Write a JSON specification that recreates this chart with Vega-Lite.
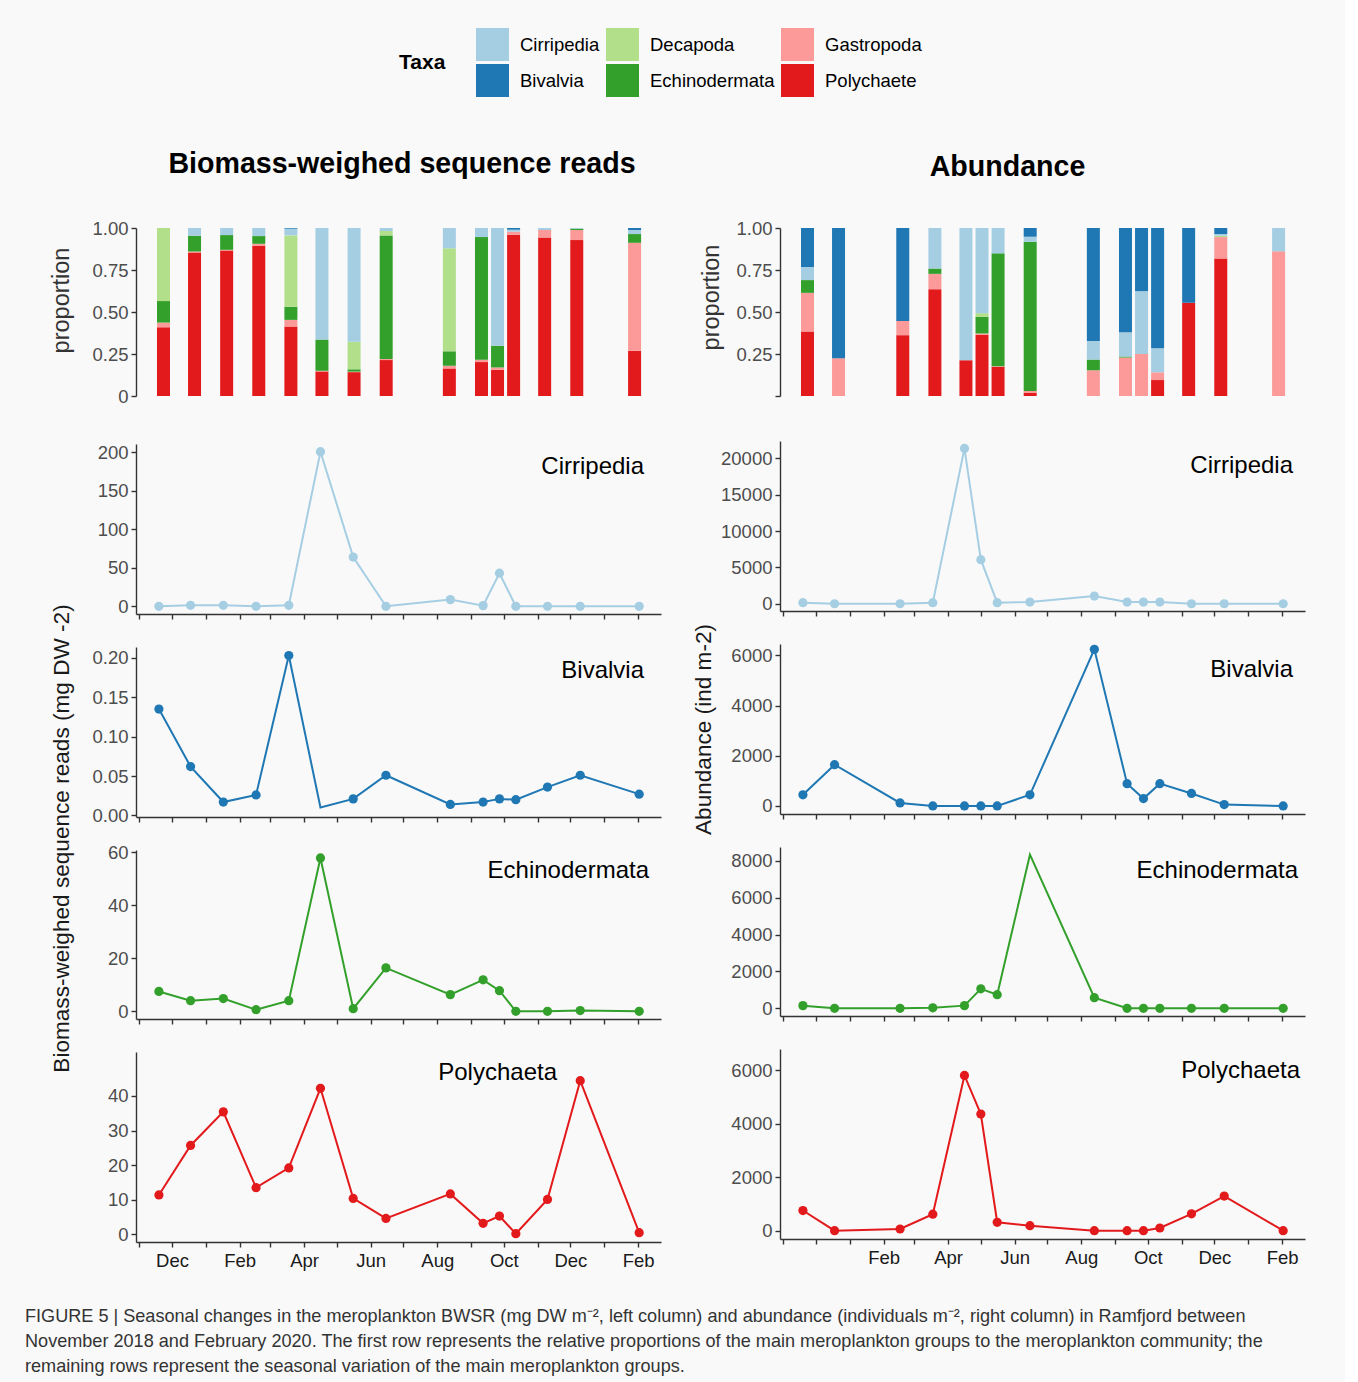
{
  "$schema": "https://vega.github.io/schema/vega-lite/v6.json",
  "background": "#f9f9f9",
  "padding": {"left": 25, "top": 28, "right": 40, "bottom": 6},
  "config": {
    "font": "Liberation Sans",
    "view": {"stroke": null},
    "axis": {"grid": false, "domainColor": "#333333", "domainWidth": 1.4, "tickColor": "#333333", "tickWidth": 1.4, "tickSize": 5, "labelFontSize": 18.5, "labelColor": "#4d4d4d", "labelPadding": 3, "titleFontSize": 22.6, "titleFontWeight": "normal", "titleColor": "#1a1a1a"},
    "axisX": {"labelFlush": false},
    "title": {"font": "Liberation Sans"}
  },
  "title": {
    "text": ["FIGURE 5 | Seasonal changes in the meroplankton BWSR (mg DW m⁻², left column) and abundance (individuals m⁻², right column) in Ramfjord between", "November 2018 and February 2020. The first row represents the relative proportions of the main meroplankton groups to the meroplankton community; the", "remaining rows represent the seasonal variation of the main meroplankton groups."],
    "orient": "bottom", "anchor": "start", "fontSize": 18.1, "fontWeight": "normal", "lineHeight": 25, "color": "#333333", "offset": 38, "dx": -24
  },
  "datasets": {
    "props": [
      {"panel": "BWSR", "date": "2018-11-19", "taxon": "Polychaete", "p": 0.409},
      {"panel": "BWSR", "date": "2018-11-19", "taxon": "Gastropoda", "p": 0.028},
      {"panel": "BWSR", "date": "2018-11-19", "taxon": "Echinodermata", "p": 0.128},
      {"panel": "BWSR", "date": "2018-11-19", "taxon": "Decapoda", "p": 0.435},
      {"panel": "BWSR", "date": "2018-12-18", "taxon": "Polychaete", "p": 0.854},
      {"panel": "BWSR", "date": "2018-12-18", "taxon": "Gastropoda", "p": 0.006},
      {"panel": "BWSR", "date": "2018-12-18", "taxon": "Echinodermata", "p": 0.094},
      {"panel": "BWSR", "date": "2018-12-18", "taxon": "Cirripedia", "p": 0.046},
      {"panel": "BWSR", "date": "2019-01-17", "taxon": "Polychaete", "p": 0.866},
      {"panel": "BWSR", "date": "2019-01-17", "taxon": "Gastropoda", "p": 0.004},
      {"panel": "BWSR", "date": "2019-01-17", "taxon": "Echinodermata", "p": 0.088},
      {"panel": "BWSR", "date": "2019-01-17", "taxon": "Cirripedia", "p": 0.042},
      {"panel": "BWSR", "date": "2019-02-16", "taxon": "Polychaete", "p": 0.894},
      {"panel": "BWSR", "date": "2019-02-16", "taxon": "Gastropoda", "p": 0.012},
      {"panel": "BWSR", "date": "2019-02-16", "taxon": "Echinodermata", "p": 0.046},
      {"panel": "BWSR", "date": "2019-02-16", "taxon": "Cirripedia", "p": 0.048},
      {"panel": "BWSR", "date": "2019-03-18", "taxon": "Polychaete", "p": 0.413},
      {"panel": "BWSR", "date": "2019-03-18", "taxon": "Gastropoda", "p": 0.040},
      {"panel": "BWSR", "date": "2019-03-18", "taxon": "Echinodermata", "p": 0.078},
      {"panel": "BWSR", "date": "2019-03-18", "taxon": "Decapoda", "p": 0.425},
      {"panel": "BWSR", "date": "2019-03-18", "taxon": "Cirripedia", "p": 0.040},
      {"panel": "BWSR", "date": "2019-03-18", "taxon": "Bivalvia", "p": 0.004},
      {"panel": "BWSR", "date": "2019-04-16", "taxon": "Polychaete", "p": 0.146},
      {"panel": "BWSR", "date": "2019-04-16", "taxon": "Gastropoda", "p": 0.004},
      {"panel": "BWSR", "date": "2019-04-16", "taxon": "Echinodermata", "p": 0.186},
      {"panel": "BWSR", "date": "2019-04-16", "taxon": "Cirripedia", "p": 0.664},
      {"panel": "BWSR", "date": "2019-05-16", "taxon": "Polychaete", "p": 0.142},
      {"panel": "BWSR", "date": "2019-05-16", "taxon": "Gastropoda", "p": 0.003},
      {"panel": "BWSR", "date": "2019-05-16", "taxon": "Echinodermata", "p": 0.014},
      {"panel": "BWSR", "date": "2019-05-16", "taxon": "Decapoda", "p": 0.164},
      {"panel": "BWSR", "date": "2019-05-16", "taxon": "Cirripedia", "p": 0.677},
      {"panel": "BWSR", "date": "2019-06-15", "taxon": "Polychaete", "p": 0.214},
      {"panel": "BWSR", "date": "2019-06-15", "taxon": "Gastropoda", "p": 0.006},
      {"panel": "BWSR", "date": "2019-06-15", "taxon": "Echinodermata", "p": 0.736},
      {"panel": "BWSR", "date": "2019-06-15", "taxon": "Decapoda", "p": 0.026},
      {"panel": "BWSR", "date": "2019-06-15", "taxon": "Cirripedia", "p": 0.018},
      {"panel": "BWSR", "date": "2019-08-13", "taxon": "Polychaete", "p": 0.164},
      {"panel": "BWSR", "date": "2019-08-13", "taxon": "Gastropoda", "p": 0.016},
      {"panel": "BWSR", "date": "2019-08-13", "taxon": "Echinodermata", "p": 0.086},
      {"panel": "BWSR", "date": "2019-08-13", "taxon": "Decapoda", "p": 0.613},
      {"panel": "BWSR", "date": "2019-08-13", "taxon": "Cirripedia", "p": 0.121},
      {"panel": "BWSR", "date": "2019-09-12", "taxon": "Polychaete", "p": 0.202},
      {"panel": "BWSR", "date": "2019-09-12", "taxon": "Gastropoda", "p": 0.014},
      {"panel": "BWSR", "date": "2019-09-12", "taxon": "Echinodermata", "p": 0.730},
      {"panel": "BWSR", "date": "2019-09-12", "taxon": "Cirripedia", "p": 0.054},
      {"panel": "BWSR", "date": "2019-09-27", "taxon": "Polychaete", "p": 0.156},
      {"panel": "BWSR", "date": "2019-09-27", "taxon": "Gastropoda", "p": 0.014},
      {"panel": "BWSR", "date": "2019-09-27", "taxon": "Echinodermata", "p": 0.129},
      {"panel": "BWSR", "date": "2019-09-27", "taxon": "Cirripedia", "p": 0.701},
      {"panel": "BWSR", "date": "2019-10-12", "taxon": "Polychaete", "p": 0.960},
      {"panel": "BWSR", "date": "2019-10-12", "taxon": "Gastropoda", "p": 0.018},
      {"panel": "BWSR", "date": "2019-10-12", "taxon": "Cirripedia", "p": 0.012},
      {"panel": "BWSR", "date": "2019-10-12", "taxon": "Bivalvia", "p": 0.010},
      {"panel": "BWSR", "date": "2019-11-10", "taxon": "Polychaete", "p": 0.944},
      {"panel": "BWSR", "date": "2019-11-10", "taxon": "Gastropoda", "p": 0.044},
      {"panel": "BWSR", "date": "2019-11-10", "taxon": "Cirripedia", "p": 0.012},
      {"panel": "BWSR", "date": "2019-12-10", "taxon": "Polychaete", "p": 0.928},
      {"panel": "BWSR", "date": "2019-12-10", "taxon": "Gastropoda", "p": 0.060},
      {"panel": "BWSR", "date": "2019-12-10", "taxon": "Echinodermata", "p": 0.008},
      {"panel": "BWSR", "date": "2019-12-10", "taxon": "Cirripedia", "p": 0.004},
      {"panel": "BWSR", "date": "2020-02-02", "taxon": "Polychaete", "p": 0.269},
      {"panel": "BWSR", "date": "2020-02-02", "taxon": "Gastropoda", "p": 0.643},
      {"panel": "BWSR", "date": "2020-02-02", "taxon": "Echinodermata", "p": 0.052},
      {"panel": "BWSR", "date": "2020-02-02", "taxon": "Cirripedia", "p": 0.024},
      {"panel": "BWSR", "date": "2020-02-02", "taxon": "Bivalvia", "p": 0.012},
      {"panel": "Abundance", "date": "2018-11-19", "taxon": "Polychaete", "p": 0.384},
      {"panel": "Abundance", "date": "2018-11-19", "taxon": "Gastropoda", "p": 0.230},
      {"panel": "Abundance", "date": "2018-11-19", "taxon": "Echinodermata", "p": 0.076},
      {"panel": "Abundance", "date": "2018-11-19", "taxon": "Cirripedia", "p": 0.078},
      {"panel": "Abundance", "date": "2018-11-19", "taxon": "Bivalvia", "p": 0.232},
      {"panel": "Abundance", "date": "2018-12-18", "taxon": "Gastropoda", "p": 0.225},
      {"panel": "Abundance", "date": "2018-12-18", "taxon": "Bivalvia", "p": 0.775},
      {"panel": "Abundance", "date": "2019-02-16", "taxon": "Polychaete", "p": 0.362},
      {"panel": "Abundance", "date": "2019-02-16", "taxon": "Gastropoda", "p": 0.085},
      {"panel": "Abundance", "date": "2019-02-16", "taxon": "Bivalvia", "p": 0.553},
      {"panel": "Abundance", "date": "2019-03-18", "taxon": "Polychaete", "p": 0.636},
      {"panel": "Abundance", "date": "2019-03-18", "taxon": "Gastropoda", "p": 0.091},
      {"panel": "Abundance", "date": "2019-03-18", "taxon": "Echinodermata", "p": 0.032},
      {"panel": "Abundance", "date": "2019-03-18", "taxon": "Cirripedia", "p": 0.241},
      {"panel": "Abundance", "date": "2019-04-16", "taxon": "Polychaete", "p": 0.213},
      {"panel": "Abundance", "date": "2019-04-16", "taxon": "Cirripedia", "p": 0.787},
      {"panel": "Abundance", "date": "2019-05-01", "taxon": "Polychaete", "p": 0.364},
      {"panel": "Abundance", "date": "2019-05-01", "taxon": "Gastropoda", "p": 0.008},
      {"panel": "Abundance", "date": "2019-05-01", "taxon": "Echinodermata", "p": 0.099},
      {"panel": "Abundance", "date": "2019-05-01", "taxon": "Decapoda", "p": 0.022},
      {"panel": "Abundance", "date": "2019-05-01", "taxon": "Cirripedia", "p": 0.507},
      {"panel": "Abundance", "date": "2019-05-16", "taxon": "Polychaete", "p": 0.173},
      {"panel": "Abundance", "date": "2019-05-16", "taxon": "Gastropoda", "p": 0.004},
      {"panel": "Abundance", "date": "2019-05-16", "taxon": "Echinodermata", "p": 0.672},
      {"panel": "Abundance", "date": "2019-05-16", "taxon": "Cirripedia", "p": 0.151},
      {"panel": "Abundance", "date": "2019-06-15", "taxon": "Polychaete", "p": 0.020},
      {"panel": "Abundance", "date": "2019-06-15", "taxon": "Gastropoda", "p": 0.010},
      {"panel": "Abundance", "date": "2019-06-15", "taxon": "Echinodermata", "p": 0.888},
      {"panel": "Abundance", "date": "2019-06-15", "taxon": "Cirripedia", "p": 0.030},
      {"panel": "Abundance", "date": "2019-06-15", "taxon": "Bivalvia", "p": 0.052},
      {"panel": "Abundance", "date": "2019-08-13", "taxon": "Gastropoda", "p": 0.153},
      {"panel": "Abundance", "date": "2019-08-13", "taxon": "Echinodermata", "p": 0.064},
      {"panel": "Abundance", "date": "2019-08-13", "taxon": "Cirripedia", "p": 0.111},
      {"panel": "Abundance", "date": "2019-08-13", "taxon": "Bivalvia", "p": 0.672},
      {"panel": "Abundance", "date": "2019-09-12", "taxon": "Gastropoda", "p": 0.229},
      {"panel": "Abundance", "date": "2019-09-12", "taxon": "Echinodermata", "p": 0.006},
      {"panel": "Abundance", "date": "2019-09-12", "taxon": "Cirripedia", "p": 0.145},
      {"panel": "Abundance", "date": "2019-09-12", "taxon": "Bivalvia", "p": 0.620},
      {"panel": "Abundance", "date": "2019-09-27", "taxon": "Gastropoda", "p": 0.250},
      {"panel": "Abundance", "date": "2019-09-27", "taxon": "Cirripedia", "p": 0.374},
      {"panel": "Abundance", "date": "2019-09-27", "taxon": "Bivalvia", "p": 0.376},
      {"panel": "Abundance", "date": "2019-10-12", "taxon": "Polychaete", "p": 0.095},
      {"panel": "Abundance", "date": "2019-10-12", "taxon": "Gastropoda", "p": 0.046},
      {"panel": "Abundance", "date": "2019-10-12", "taxon": "Cirripedia", "p": 0.143},
      {"panel": "Abundance", "date": "2019-10-12", "taxon": "Bivalvia", "p": 0.716},
      {"panel": "Abundance", "date": "2019-11-10", "taxon": "Polychaete", "p": 0.555},
      {"panel": "Abundance", "date": "2019-11-10", "taxon": "Bivalvia", "p": 0.445},
      {"panel": "Abundance", "date": "2019-12-10", "taxon": "Polychaete", "p": 0.819},
      {"panel": "Abundance", "date": "2019-12-10", "taxon": "Gastropoda", "p": 0.127},
      {"panel": "Abundance", "date": "2019-12-10", "taxon": "Decapoda", "p": 0.008},
      {"panel": "Abundance", "date": "2019-12-10", "taxon": "Cirripedia", "p": 0.010},
      {"panel": "Abundance", "date": "2019-12-10", "taxon": "Bivalvia", "p": 0.036},
      {"panel": "Abundance", "date": "2020-02-02", "taxon": "Gastropoda", "p": 0.861},
      {"panel": "Abundance", "date": "2020-02-02", "taxon": "Cirripedia", "p": 0.139}
    ],
    "series": [
      {"panel": "BWSR", "taxon": "Cirripedia", "date": "2018-11-19", "v": 0},
      {"panel": "BWSR", "taxon": "Cirripedia", "date": "2018-12-18", "v": 1.3},
      {"panel": "BWSR", "taxon": "Cirripedia", "date": "2019-01-17", "v": 1.3},
      {"panel": "BWSR", "taxon": "Cirripedia", "date": "2019-02-16", "v": 0},
      {"panel": "BWSR", "taxon": "Cirripedia", "date": "2019-03-18", "v": 1.3},
      {"panel": "BWSR", "taxon": "Cirripedia", "date": "2019-04-16", "v": 201},
      {"panel": "BWSR", "taxon": "Cirripedia", "date": "2019-05-16", "v": 64},
      {"panel": "BWSR", "taxon": "Cirripedia", "date": "2019-06-15", "v": 0},
      {"panel": "BWSR", "taxon": "Cirripedia", "date": "2019-08-13", "v": 8.7},
      {"panel": "BWSR", "taxon": "Cirripedia", "date": "2019-09-12", "v": 0.9},
      {"panel": "BWSR", "taxon": "Cirripedia", "date": "2019-09-27", "v": 43},
      {"panel": "BWSR", "taxon": "Cirripedia", "date": "2019-10-12", "v": 0},
      {"panel": "BWSR", "taxon": "Cirripedia", "date": "2019-11-10", "v": 0},
      {"panel": "BWSR", "taxon": "Cirripedia", "date": "2019-12-10", "v": 0},
      {"panel": "BWSR", "taxon": "Cirripedia", "date": "2020-02-02", "v": 0},
      {"panel": "BWSR", "taxon": "Bivalvia", "date": "2018-11-19", "v": 0.135},
      {"panel": "BWSR", "taxon": "Bivalvia", "date": "2018-12-18", "v": 0.062},
      {"panel": "BWSR", "taxon": "Bivalvia", "date": "2019-01-17", "v": 0.017},
      {"panel": "BWSR", "taxon": "Bivalvia", "date": "2019-02-16", "v": 0.026},
      {"panel": "BWSR", "taxon": "Bivalvia", "date": "2019-03-18", "v": 0.203},
      {"panel": "BWSR", "taxon": "Bivalvia", "date": "2019-04-16", "v": 0.010},
      {"panel": "BWSR", "taxon": "Bivalvia", "date": "2019-05-16", "v": 0.021},
      {"panel": "BWSR", "taxon": "Bivalvia", "date": "2019-06-15", "v": 0.051},
      {"panel": "BWSR", "taxon": "Bivalvia", "date": "2019-08-13", "v": 0.014},
      {"panel": "BWSR", "taxon": "Bivalvia", "date": "2019-09-12", "v": 0.017},
      {"panel": "BWSR", "taxon": "Bivalvia", "date": "2019-09-27", "v": 0.021},
      {"panel": "BWSR", "taxon": "Bivalvia", "date": "2019-10-12", "v": 0.020},
      {"panel": "BWSR", "taxon": "Bivalvia", "date": "2019-11-10", "v": 0.036},
      {"panel": "BWSR", "taxon": "Bivalvia", "date": "2019-12-10", "v": 0.051},
      {"panel": "BWSR", "taxon": "Bivalvia", "date": "2020-02-02", "v": 0.027},
      {"panel": "BWSR", "taxon": "Echinodermata", "date": "2018-11-19", "v": 7.5},
      {"panel": "BWSR", "taxon": "Echinodermata", "date": "2018-12-18", "v": 4.0},
      {"panel": "BWSR", "taxon": "Echinodermata", "date": "2019-01-17", "v": 4.8},
      {"panel": "BWSR", "taxon": "Echinodermata", "date": "2019-02-16", "v": 0.6},
      {"panel": "BWSR", "taxon": "Echinodermata", "date": "2019-03-18", "v": 4.0},
      {"panel": "BWSR", "taxon": "Echinodermata", "date": "2019-04-16", "v": 57.9},
      {"panel": "BWSR", "taxon": "Echinodermata", "date": "2019-05-16", "v": 1.0},
      {"panel": "BWSR", "taxon": "Echinodermata", "date": "2019-06-15", "v": 16.4},
      {"panel": "BWSR", "taxon": "Echinodermata", "date": "2019-08-13", "v": 6.3},
      {"panel": "BWSR", "taxon": "Echinodermata", "date": "2019-09-12", "v": 11.9},
      {"panel": "BWSR", "taxon": "Echinodermata", "date": "2019-09-27", "v": 7.8},
      {"panel": "BWSR", "taxon": "Echinodermata", "date": "2019-10-12", "v": 0},
      {"panel": "BWSR", "taxon": "Echinodermata", "date": "2019-11-10", "v": 0},
      {"panel": "BWSR", "taxon": "Echinodermata", "date": "2019-12-10", "v": 0.3},
      {"panel": "BWSR", "taxon": "Echinodermata", "date": "2020-02-02", "v": 0},
      {"panel": "BWSR", "taxon": "Polychaeta", "date": "2018-11-19", "v": 11.4},
      {"panel": "BWSR", "taxon": "Polychaeta", "date": "2018-12-18", "v": 25.7},
      {"panel": "BWSR", "taxon": "Polychaeta", "date": "2019-01-17", "v": 35.4},
      {"panel": "BWSR", "taxon": "Polychaeta", "date": "2019-02-16", "v": 13.5},
      {"panel": "BWSR", "taxon": "Polychaeta", "date": "2019-03-18", "v": 19.2},
      {"panel": "BWSR", "taxon": "Polychaeta", "date": "2019-04-16", "v": 42.2},
      {"panel": "BWSR", "taxon": "Polychaeta", "date": "2019-05-16", "v": 10.4},
      {"panel": "BWSR", "taxon": "Polychaeta", "date": "2019-06-15", "v": 4.6},
      {"panel": "BWSR", "taxon": "Polychaeta", "date": "2019-08-13", "v": 11.7},
      {"panel": "BWSR", "taxon": "Polychaeta", "date": "2019-09-12", "v": 3.2},
      {"panel": "BWSR", "taxon": "Polychaeta", "date": "2019-09-27", "v": 5.3},
      {"panel": "BWSR", "taxon": "Polychaeta", "date": "2019-10-12", "v": 0.2},
      {"panel": "BWSR", "taxon": "Polychaeta", "date": "2019-11-10", "v": 10.1},
      {"panel": "BWSR", "taxon": "Polychaeta", "date": "2019-12-10", "v": 44.4},
      {"panel": "BWSR", "taxon": "Polychaeta", "date": "2020-02-02", "v": 0.5},
      {"panel": "Abundance", "taxon": "Cirripedia", "date": "2018-11-19", "v": 140},
      {"panel": "Abundance", "taxon": "Cirripedia", "date": "2018-12-18", "v": 0},
      {"panel": "Abundance", "taxon": "Cirripedia", "date": "2019-02-16", "v": 0},
      {"panel": "Abundance", "taxon": "Cirripedia", "date": "2019-03-18", "v": 140},
      {"panel": "Abundance", "taxon": "Cirripedia", "date": "2019-04-16", "v": 21380},
      {"panel": "Abundance", "taxon": "Cirripedia", "date": "2019-05-01", "v": 6070},
      {"panel": "Abundance", "taxon": "Cirripedia", "date": "2019-05-16", "v": 140},
      {"panel": "Abundance", "taxon": "Cirripedia", "date": "2019-06-15", "v": 230},
      {"panel": "Abundance", "taxon": "Cirripedia", "date": "2019-08-13", "v": 1060},
      {"panel": "Abundance", "taxon": "Cirripedia", "date": "2019-09-12", "v": 230},
      {"panel": "Abundance", "taxon": "Cirripedia", "date": "2019-09-27", "v": 230},
      {"panel": "Abundance", "taxon": "Cirripedia", "date": "2019-10-12", "v": 230},
      {"panel": "Abundance", "taxon": "Cirripedia", "date": "2019-11-10", "v": 0},
      {"panel": "Abundance", "taxon": "Cirripedia", "date": "2019-12-10", "v": 0},
      {"panel": "Abundance", "taxon": "Cirripedia", "date": "2020-02-02", "v": 0},
      {"panel": "Abundance", "taxon": "Bivalvia", "date": "2018-11-19", "v": 444},
      {"panel": "Abundance", "taxon": "Bivalvia", "date": "2018-12-18", "v": 1643},
      {"panel": "Abundance", "taxon": "Bivalvia", "date": "2019-02-16", "v": 121},
      {"panel": "Abundance", "taxon": "Bivalvia", "date": "2019-03-18", "v": 0},
      {"panel": "Abundance", "taxon": "Bivalvia", "date": "2019-04-16", "v": 0},
      {"panel": "Abundance", "taxon": "Bivalvia", "date": "2019-05-01", "v": 0},
      {"panel": "Abundance", "taxon": "Bivalvia", "date": "2019-05-16", "v": 0},
      {"panel": "Abundance", "taxon": "Bivalvia", "date": "2019-06-15", "v": 444},
      {"panel": "Abundance", "taxon": "Bivalvia", "date": "2019-08-13", "v": 6236},
      {"panel": "Abundance", "taxon": "Bivalvia", "date": "2019-09-12", "v": 889},
      {"panel": "Abundance", "taxon": "Bivalvia", "date": "2019-09-27", "v": 296},
      {"panel": "Abundance", "taxon": "Bivalvia", "date": "2019-10-12", "v": 889},
      {"panel": "Abundance", "taxon": "Bivalvia", "date": "2019-11-10", "v": 498},
      {"panel": "Abundance", "taxon": "Bivalvia", "date": "2019-12-10", "v": 54},
      {"panel": "Abundance", "taxon": "Bivalvia", "date": "2020-02-02", "v": 0},
      {"panel": "Abundance", "taxon": "Echinodermata", "date": "2018-11-19", "v": 146},
      {"panel": "Abundance", "taxon": "Echinodermata", "date": "2018-12-18", "v": 0},
      {"panel": "Abundance", "taxon": "Echinodermata", "date": "2019-02-16", "v": 0},
      {"panel": "Abundance", "taxon": "Echinodermata", "date": "2019-03-18", "v": 30},
      {"panel": "Abundance", "taxon": "Echinodermata", "date": "2019-04-16", "v": 146},
      {"panel": "Abundance", "taxon": "Echinodermata", "date": "2019-05-01", "v": 1060},
      {"panel": "Abundance", "taxon": "Echinodermata", "date": "2019-05-16", "v": 740},
      {"panel": "Abundance", "taxon": "Echinodermata", "date": "2019-06-15", "v": 8340},
      {"panel": "Abundance", "taxon": "Echinodermata", "date": "2019-08-13", "v": 577},
      {"panel": "Abundance", "taxon": "Echinodermata", "date": "2019-09-12", "v": 0},
      {"panel": "Abundance", "taxon": "Echinodermata", "date": "2019-09-27", "v": 0},
      {"panel": "Abundance", "taxon": "Echinodermata", "date": "2019-10-12", "v": 0},
      {"panel": "Abundance", "taxon": "Echinodermata", "date": "2019-11-10", "v": 0},
      {"panel": "Abundance", "taxon": "Echinodermata", "date": "2019-12-10", "v": 0},
      {"panel": "Abundance", "taxon": "Echinodermata", "date": "2020-02-02", "v": 0},
      {"panel": "Abundance", "taxon": "Polychaeta", "date": "2018-11-19", "v": 753},
      {"panel": "Abundance", "taxon": "Polychaeta", "date": "2018-12-18", "v": 0},
      {"panel": "Abundance", "taxon": "Polychaeta", "date": "2019-02-16", "v": 63},
      {"panel": "Abundance", "taxon": "Polychaeta", "date": "2019-03-18", "v": 615},
      {"panel": "Abundance", "taxon": "Polychaeta", "date": "2019-04-16", "v": 5800},
      {"panel": "Abundance", "taxon": "Polychaeta", "date": "2019-05-01", "v": 4356},
      {"panel": "Abundance", "taxon": "Polychaeta", "date": "2019-05-16", "v": 314},
      {"panel": "Abundance", "taxon": "Polychaeta", "date": "2019-06-15", "v": 188},
      {"panel": "Abundance", "taxon": "Polychaeta", "date": "2019-08-13", "v": 0},
      {"panel": "Abundance", "taxon": "Polychaeta", "date": "2019-09-12", "v": 0},
      {"panel": "Abundance", "taxon": "Polychaeta", "date": "2019-09-27", "v": 0},
      {"panel": "Abundance", "taxon": "Polychaeta", "date": "2019-10-12", "v": 100},
      {"panel": "Abundance", "taxon": "Polychaeta", "date": "2019-11-10", "v": 628},
      {"panel": "Abundance", "taxon": "Polychaeta", "date": "2019-12-10", "v": 1293},
      {"panel": "Abundance", "taxon": "Polychaeta", "date": "2020-02-02", "v": 0}
    ]
  },
  "resolve": {"scale": {"color": "shared"}, "legend": {"color": "shared"}},
  "spacing": 31,
  "hconcat": [
    {
      "title": {"text": "Biomass-weighed sequence reads", "fontSize": 28.6, "fontWeight": "bold", "anchor": "middle", "offset": 40, "dx": 47, "color": "#000000"},
      "spacing": 37,
      "vconcat": [
        {
          "width": 525, "height": 168,
          "data": {"name": "props"},
          "transform": [{"filter": "datum.panel == 'BWSR'"}, {"calculate": "indexof(['Polychaete','Gastropoda','Echinodermata','Decapoda','Cirripedia','Bivalvia'], datum.taxon)", "as": "ord"}],
          "mark": {"type": "bar", "width": 13},
          "encoding": {
            "x": {"field": "date", "type": "temporal", "scale": {"type": "utc", "domain": [{"year": 2018, "month": "oct", "date": 29, "utc": true}, {"year": 2020, "month": "feb", "date": 22, "utc": true}]}, "axis": null},
            "y": {"field": "p", "type": "quantitative", "stack": "zero", "scale": {"domain": [0, 1], "nice": false}, "axis": {"values": [0, 0.25, 0.5, 0.75, 1], "labelExpr": "datum.value == 0 ? '0' : format(datum.value, '.2f')", "title": "proportion", "titleX": -63, "titleY": 72, "titleFontSize": 23.5, "titleColor": "#333333"}},
            "color": {"field": "taxon", "type": "nominal", "scale": {"domain": ["Cirripedia", "Decapoda", "Gastropoda", "Bivalvia", "Echinodermata", "Polychaete"], "range": ["#a6cee3", "#b2df8a", "#fb9a99", "#1f78b4", "#33a02c", "#e31a1c"]},
              "legend": {"orient": "none", "legendX": 263, "legendY": -200, "direction": "horizontal", "columns": 3, "title": "Taxa", "titleOrient": "left", "titleAnchor": "middle", "titleBaseline": "middle", "titleFontSize": 21, "titleFontWeight": "bold", "titleColor": "#000000", "titlePadding": 30, "labelFontSize": 18.5, "labelColor": "#000000", "symbolType": "square", "symbolSize": 1089, "symbolStrokeWidth": 0, "symbolOpacity": 1, "rowPadding": 3, "columnPadding": 6, "labelOffset": 11}},
            "order": {"field": "ord", "type": "quantitative", "sort": "ascending"}
          }
        },
        {
          "spacing": 33,
          "bounds": "flush",
          "vconcat": [
            {
              "width": 525, "height": 170,
              "data": {"name": "series"},
              "transform": [{"filter": "datum.panel == 'BWSR' && datum.taxon == 'Cirripedia'"}],
              "title": {"text": "Cirripedia", "anchor": "end", "frame": "group", "offset": -55, "dx": -17, "baseline": "alphabetic", "fontSize": 24, "fontWeight": "normal", "color": "#000000"},
              "encoding": {
                "x": {"field": "date", "type": "temporal", "scale": {"type": "utc", "domain": [{"year": 2018, "month": "oct", "date": 29, "utc": true}, {"year": 2020, "month": "feb", "date": 22, "utc": true}]}, "axis": {"title": null, "labels": false, "tickCount": {"interval": "month", "step": 1}}},
                "y": {"field": "v", "type": "quantitative", "scale": {"domain": [-10, 211], "nice": false, "zero": false}, "axis": {"values": [0, 50, 100, 150, 200], "title": null}}
              },
              "layer": [
                {"mark": {"type": "line", "color": "#a6cee3", "strokeWidth": 2}, "encoding": {}},
                {"mark": {"type": "circle", "color": "#a6cee3", "size": 85, "opacity": 1}, "encoding": {}}
              ]
            },
            {
              "width": 525, "height": 170,
              "data": {"name": "series"},
              "transform": [{"filter": "datum.panel == 'BWSR' && datum.taxon == 'Bivalvia'"}],
              "title": {"text": "Bivalvia", "anchor": "end", "frame": "group", "offset": -98, "dx": -17, "baseline": "alphabetic", "fontSize": 24, "fontWeight": "normal", "color": "#000000"},
              "encoding": {
                "x": {"field": "date", "type": "temporal", "scale": {"type": "utc", "domain": [{"year": 2018, "month": "oct", "date": 29, "utc": true}, {"year": 2020, "month": "feb", "date": 22, "utc": true}]}, "axis": {"title": null, "labels": false, "tickCount": {"interval": "month", "step": 1}}},
                "y": {"field": "v", "type": "quantitative", "scale": {"domain": [-0.002, 0.2138], "nice": false, "zero": false}, "axis": {"values": [0, 0.05, 0.1, 0.15, 0.2], "format": ".2f", "title": "Biomass-weighed sequence reads (mg DW -2)", "titleX": -63, "titleY": 191}}
              },
              "layer": [
                {"mark": {"type": "line", "color": "#1f78b4", "strokeWidth": 2}, "encoding": {}},
                {"transform": [{"filter": "+toDate(datum.date) != +toDate('2019-04-16')"}], "mark": {"type": "circle", "color": "#1f78b4", "size": 85, "opacity": 1}, "encoding": {}}
              ]
            },
            {
              "width": 525, "height": 169,
              "data": {"name": "series"},
              "transform": [{"filter": "datum.panel == 'BWSR' && datum.taxon == 'Echinodermata'"}],
              "title": {"text": "Echinodermata", "anchor": "end", "frame": "group", "offset": -59, "dx": -12, "baseline": "alphabetic", "fontSize": 24, "fontWeight": "normal", "color": "#000000"},
              "encoding": {
                "x": {"field": "date", "type": "temporal", "scale": {"type": "utc", "domain": [{"year": 2018, "month": "oct", "date": 29, "utc": true}, {"year": 2020, "month": "feb", "date": 22, "utc": true}]}, "axis": {"title": null, "labels": false, "tickCount": {"interval": "month", "step": 1}}},
                "y": {"field": "v", "type": "quantitative", "scale": {"domain": [-2.9, 60.9], "nice": false, "zero": false}, "axis": {"values": [0, 20, 40, 60], "title": null}}
              },
              "layer": [
                {"mark": {"type": "line", "color": "#33a02c", "strokeWidth": 2}, "encoding": {}},
                {"mark": {"type": "circle", "color": "#33a02c", "size": 85, "opacity": 1}, "encoding": {}}
              ]
            },
            {
              "width": 525, "height": 190,
              "data": {"name": "series"},
              "transform": [{"filter": "datum.panel == 'BWSR' && datum.taxon == 'Polychaeta'"}],
              "title": {"text": "Polychaeta", "anchor": "end", "frame": "group", "offset": -52, "dx": -104, "baseline": "alphabetic", "fontSize": 24, "fontWeight": "normal", "color": "#000000"},
              "encoding": {
                "x": {"field": "date", "type": "temporal", "scale": {"type": "utc", "domain": [{"year": 2018, "month": "oct", "date": 29, "utc": true}, {"year": 2020, "month": "feb", "date": 22, "utc": true}]}, "axis": {"title": null, "tickCount": {"interval": "month", "step": 1}, "labelExpr": "utcmonth(datum.value) % 2 == 1 ? utcFormat(datum.value, '%b') : ''", "labelOverlap": false, "labelColor": "#1a1a1a", "labelFontSize": 18.5, "labelPadding": 4}},
                "y": {"field": "v", "type": "quantitative", "scale": {"domain": [-2.2, 52.7], "nice": false, "zero": false}, "axis": {"values": [0, 10, 20, 30, 40], "title": null}}
              },
              "layer": [
                {"mark": {"type": "line", "color": "#e31a1c", "strokeWidth": 2}, "encoding": {}},
                {"mark": {"type": "circle", "color": "#e31a1c", "size": 85, "opacity": 1}, "encoding": {}}
              ]
            }
          ]
        }
      ]
    },
    {
      "title": {"text": "Abundance", "fontSize": 28.6, "fontWeight": "bold", "anchor": "middle", "offset": 37, "dx": 9, "color": "#000000"},
      "spacing": 44,
      "vconcat": [
        {
          "width": 525, "height": 168,
          "data": {"name": "props"},
          "transform": [{"filter": "datum.panel == 'Abundance'"}, {"calculate": "indexof(['Polychaete','Gastropoda','Echinodermata','Decapoda','Cirripedia','Bivalvia'], datum.taxon)", "as": "ord"}],
          "mark": {"type": "bar", "width": 13},
          "encoding": {
            "x": {"field": "date", "type": "temporal", "scale": {"type": "utc", "domain": [{"year": 2018, "month": "oct", "date": 29, "utc": true}, {"year": 2020, "month": "feb", "date": 22, "utc": true}]}, "axis": null},
            "y": {"field": "p", "type": "quantitative", "stack": "zero", "scale": {"domain": [0, 1], "nice": false}, "axis": {"values": [0, 0.25, 0.5, 0.75, 1], "labelExpr": "datum.value == 0 ? '' : format(datum.value, '.2f')", "title": "proportion", "titleX": -57, "titleY": 69, "titleFontSize": 23.5, "titleColor": "#333333"}},
            "color": {"field": "taxon", "type": "nominal", "scale": {"domain": ["Cirripedia", "Decapoda", "Gastropoda", "Bivalvia", "Echinodermata", "Polychaete"], "range": ["#a6cee3", "#b2df8a", "#fb9a99", "#1f78b4", "#33a02c", "#e31a1c"]},
              "legend": {"orient": "none", "legendX": 263, "legendY": -200, "direction": "horizontal", "columns": 3, "title": "Taxa", "titleOrient": "left", "titleAnchor": "middle", "titleBaseline": "middle", "titleFontSize": 21, "titleFontWeight": "bold", "titleColor": "#000000", "titlePadding": 30, "labelFontSize": 18.5, "labelColor": "#000000", "symbolType": "square", "symbolSize": 1089, "symbolStrokeWidth": 0, "symbolOpacity": 1, "rowPadding": 3, "columnPadding": 6, "labelOffset": 11}},
            "order": {"field": "ord", "type": "quantitative", "sort": "ascending"}
          }
        },
        {
          "spacing": 33,
          "bounds": "flush",
          "vconcat": [
            {
              "width": 525, "height": 170,
              "data": {"name": "series"},
              "transform": [{"filter": "datum.panel == 'Abundance' && datum.taxon == 'Cirripedia'"}],
              "title": {"text": "Cirripedia", "anchor": "end", "frame": "group", "offset": -56, "dx": -12, "baseline": "alphabetic", "fontSize": 24, "fontWeight": "normal", "color": "#000000"},
              "encoding": {
                "x": {"field": "date", "type": "temporal", "scale": {"type": "utc", "domain": [{"year": 2018, "month": "oct", "date": 29, "utc": true}, {"year": 2020, "month": "feb", "date": 22, "utc": true}]}, "axis": {"title": null, "labels": false, "tickCount": {"interval": "month", "step": 1}}},
                "y": {"field": "v", "type": "quantitative", "scale": {"domain": [-1000, 22400], "nice": false, "zero": false}, "axis": {"values": [0, 5000, 10000, 15000, 20000], "format": "d", "title": null}}
              },
              "layer": [
                {"mark": {"type": "line", "color": "#a6cee3", "strokeWidth": 2}, "encoding": {}},
                {"mark": {"type": "circle", "color": "#a6cee3", "size": 85, "opacity": 1}, "encoding": {}}
              ]
            },
            {
              "width": 525, "height": 170,
              "data": {"name": "series"},
              "transform": [{"filter": "datum.panel == 'Abundance' && datum.taxon == 'Bivalvia'"}],
              "title": {"text": "Bivalvia", "anchor": "end", "frame": "group", "offset": -77, "dx": -12, "baseline": "alphabetic", "fontSize": 24, "fontWeight": "normal", "color": "#000000"},
              "encoding": {
                "x": {"field": "date", "type": "temporal", "scale": {"type": "utc", "domain": [{"year": 2018, "month": "oct", "date": 29, "utc": true}, {"year": 2020, "month": "feb", "date": 22, "utc": true}]}, "axis": {"title": null, "labels": false, "tickCount": {"interval": "month", "step": 1}}},
                "y": {"field": "v", "type": "quantitative", "scale": {"domain": [-320, 6450], "nice": false, "zero": false}, "axis": {"values": [0, 2000, 4000, 6000], "format": "d", "title": "Abundance (ind m-2)", "titleX": -65}}
              },
              "layer": [
                {"mark": {"type": "line", "color": "#1f78b4", "strokeWidth": 2}, "encoding": {}},
                {"mark": {"type": "circle", "color": "#1f78b4", "size": 85, "opacity": 1}, "encoding": {}}
              ]
            },
            {
              "width": 525, "height": 169,
              "data": {"name": "series"},
              "transform": [{"filter": "datum.panel == 'Abundance' && datum.taxon == 'Echinodermata'"}],
              "title": {"text": "Echinodermata", "anchor": "end", "frame": "group", "offset": -55, "dx": -7, "baseline": "alphabetic", "fontSize": 24, "fontWeight": "normal", "color": "#000000"},
              "encoding": {
                "x": {"field": "date", "type": "temporal", "scale": {"type": "utc", "domain": [{"year": 2018, "month": "oct", "date": 29, "utc": true}, {"year": 2020, "month": "feb", "date": 22, "utc": true}]}, "axis": {"title": null, "labels": false, "tickCount": {"interval": "month", "step": 1}}},
                "y": {"field": "v", "type": "quantitative", "scale": {"domain": [-417, 8757], "nice": false, "zero": false}, "axis": {"values": [0, 2000, 4000, 6000, 8000], "format": "d", "title": null}}
              },
              "layer": [
                {"mark": {"type": "line", "color": "#33a02c", "strokeWidth": 2}, "encoding": {}},
                {"transform": [{"filter": "+toDate(datum.date) != +toDate('2019-06-15')"}], "mark": {"type": "circle", "color": "#33a02c", "size": 85, "opacity": 1}, "encoding": {}}
              ]
            },
            {
              "width": 525, "height": 190,
              "data": {"name": "series"},
              "transform": [{"filter": "datum.panel == 'Abundance' && datum.taxon == 'Polychaeta'"}],
              "title": {"text": "Polychaeta", "anchor": "end", "frame": "group", "offset": -53, "dx": -5, "baseline": "alphabetic", "fontSize": 24, "fontWeight": "normal", "color": "#000000"},
              "encoding": {
                "x": {"field": "date", "type": "temporal", "scale": {"type": "utc", "domain": [{"year": 2018, "month": "oct", "date": 29, "utc": true}, {"year": 2020, "month": "feb", "date": 22, "utc": true}]}, "axis": {"title": null, "tickCount": {"interval": "month", "step": 1}, "labelExpr": "(utcmonth(datum.value) % 2 == 1 && utcyear(datum.value) > 2018) ? utcFormat(datum.value, '%b') : ''", "labelOverlap": false, "labelColor": "#1a1a1a", "labelFontSize": 18.5, "labelPadding": 4}},
                "y": {"field": "v", "type": "quantitative", "scale": {"domain": [-311, 6787], "nice": false, "zero": false}, "axis": {"values": [0, 2000, 4000, 6000], "format": "d", "title": null}}
              },
              "layer": [
                {"mark": {"type": "line", "color": "#e31a1c", "strokeWidth": 2}, "encoding": {}},
                {"mark": {"type": "circle", "color": "#e31a1c", "size": 85, "opacity": 1}, "encoding": {}}
              ]
            }
          ]
        }
      ]
    }
  ]
}
